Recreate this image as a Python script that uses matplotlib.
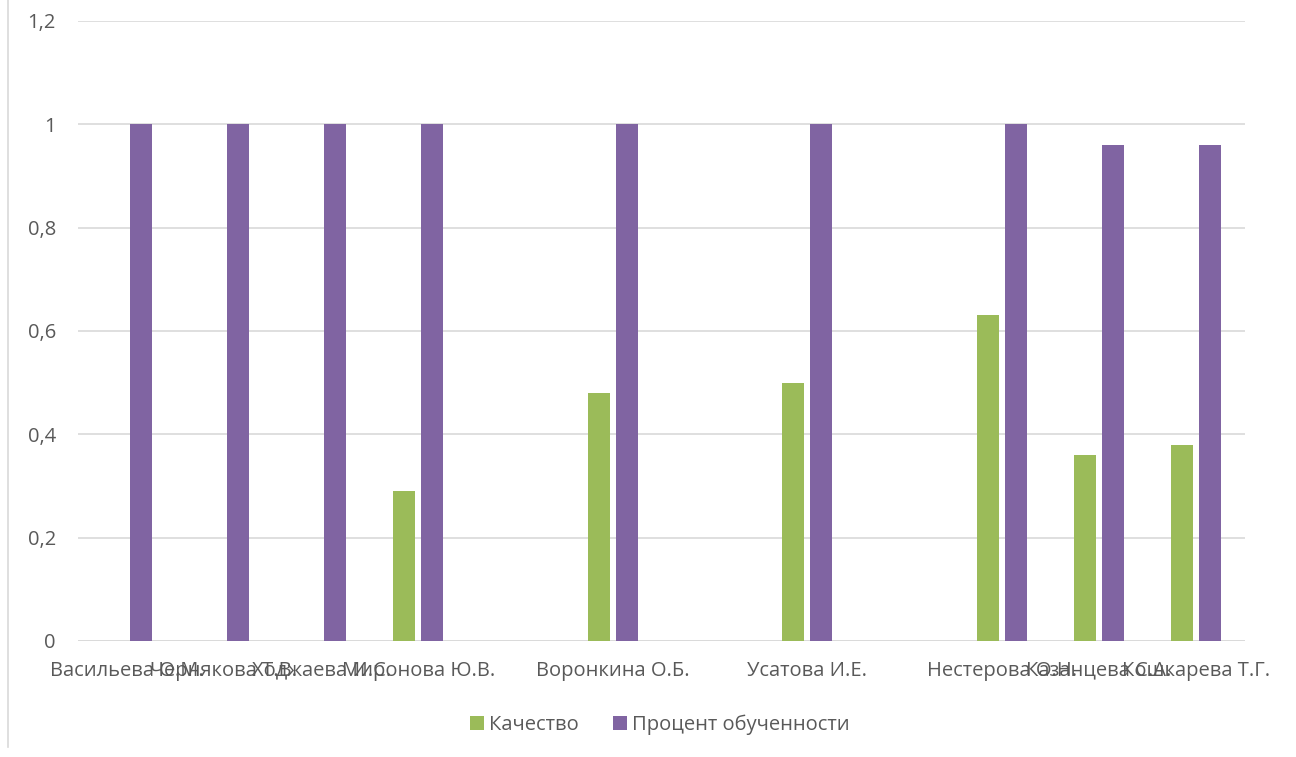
import numpy as np
import matplotlib.pyplot as plt
from matplotlib.lines import Line2D

# data
teachers = ["Васильева О.М.", "Чернякова Т.В.", "Ходжаева И.С.", "Миронова Ю.В.", "",
            "Воронкина О.Б.", "", "Усатова И.Е.", "", "Нестерова О.Н.",
            "Казанцева С.А.", "Кошкарева Т.Г."]
quality = [0, 0, 0, 0.29, np.nan, 0.48, np.nan, 0.50, np.nan, 0.63, 0.36, 0.38]
learning = [1, 1, 1, 1, np.nan, 1, np.nan, 1, np.nan, 1, 0.96, 0.96]
yticks = [0, 0.2, 0.4, 0.6, 0.8, 1.0, 1.2]
ytick_labels = ["0", "0,2", "0,4", "0,6", "0,8", "1", "1,2"]

green = "#9BBB59"
purple = "#8064A2"
text_col = "#595959"
grid_col = "#D9D9D9"

plt.rcParams["font.family"] = ["Open Sans", "DejaVu Sans"]

fig = plt.figure(figsize=(12.96, 7.57), dpi=100)
ax = fig.add_axes([78/1296, 1-641/757, 1167/1296, 620/757])

x = np.arange(len(teachers))
w = 0.226
ax.bar(x - 0.144, quality, w, color=green, label="Качество", zorder=3)
ax.bar(x + 0.144, learning, w, color=purple, label="Процент обученности", zorder=3)

ax.set_xlim(-0.5, len(teachers) - 0.5)
ax.set_ylim(0, 1.2)
ax.set_yticks(yticks)
ax.set_yticklabels(ytick_labels)
ax.set_xticks(x)
ax.set_xticklabels(teachers)
ax.tick_params(axis="both", length=0, labelsize=14.5, colors=text_col)
ax.tick_params(axis="y", pad=16)
ax.tick_params(axis="x", pad=25)
for lab in ax.get_xticklabels():
    lab.set_verticalalignment("baseline")
ax.grid(axis="y", color=grid_col, linewidth=1.2, zorder=0)
for s in ax.spines.values():
    s.set_visible(False)
ax.axhline(0, color=grid_col, linewidth=1.2, zorder=1)

fig.legend(loc="center", bbox_to_anchor=(0.5 + 12/1296, 1-725/757), ncol=2, frameon=False,
           fontsize=14.5, labelcolor=text_col, handlelength=0.7, handleheight=0.7,
           handletextpad=0.25, columnspacing=1.7)

fig.add_artist(Line2D([8/1296, 8/1296], [10/757, 1], transform=fig.transFigure,
                      color=grid_col, linewidth=1.2))

fig.savefig("out.png", dpi=100)
